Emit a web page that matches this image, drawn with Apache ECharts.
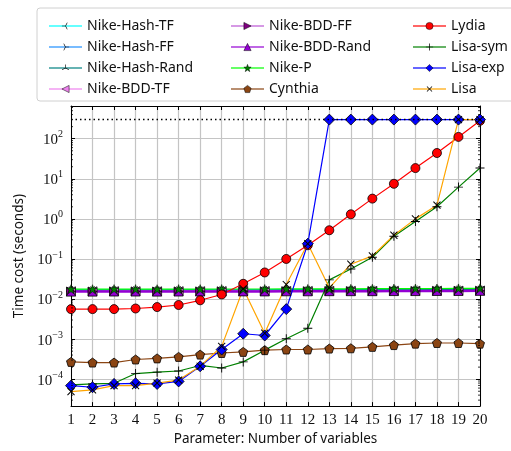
<!DOCTYPE html>
<html>
<head>
<meta charset="utf-8">
<script src="https://cdn.jsdelivr.net/npm/echarts@6/dist/echarts.min.js"></script>
<style>
  html, body { margin: 0; padding: 0; background: #fff; }
  #chart { width: 511px; height: 451px; }
</style>
</head>
<body>
<div id="chart"></div>
<script>
// number of variables
var nVars = [1, 2, 3, 4, 5, 6, 7, 8, 9, 10, 11, 12, 13, 14, 15, 16, 17, 18, 19, 20];

// time cost in seconds
var nikeHashTF = [0.0168, 0.0168, 0.0169, 0.0169, 0.0168, 0.0169, 0.0169, 0.0170, 0.0170, 0.0170, 0.0171, 0.0171, 0.0172, 0.0172, 0.0172, 0.0173, 0.0173, 0.0174, 0.0174, 0.0175];
var nikeHashFF = [0.0166, 0.0166, 0.0167, 0.0167, 0.0166, 0.0167, 0.0167, 0.0168, 0.0168, 0.0168, 0.0169, 0.0169, 0.0170, 0.0170, 0.0170, 0.0171, 0.0171, 0.0172, 0.0172, 0.0173];
var nikeHashRand = [0.0165, 0.0165, 0.0166, 0.0166, 0.0165, 0.0166, 0.0166, 0.0167, 0.0167, 0.0167, 0.0168, 0.0168, 0.0169, 0.0169, 0.0169, 0.0170, 0.0170, 0.0171, 0.0171, 0.0172];
var nikeBddTF = [0.0156, 0.0156, 0.0157, 0.0157, 0.0156, 0.0157, 0.0157, 0.0158, 0.0158, 0.0158, 0.0159, 0.0159, 0.0160, 0.0160, 0.0160, 0.0161, 0.0161, 0.0162, 0.0162, 0.0163];
var nikeBddFF = [0.0154, 0.0154, 0.0155, 0.0155, 0.0154, 0.0155, 0.0155, 0.0156, 0.0156, 0.0156, 0.0157, 0.0157, 0.0158, 0.0158, 0.0158, 0.0159, 0.0159, 0.0160, 0.0160, 0.0161];
var nikeBddRand = [0.0153, 0.0153, 0.0154, 0.0154, 0.0153, 0.0154, 0.0154, 0.0155, 0.0155, 0.0155, 0.0156, 0.0156, 0.0157, 0.0157, 0.0157, 0.0158, 0.0158, 0.0159, 0.0159, 0.0160];
var nikeP = [0.0176, 0.0176, 0.0177, 0.0177, 0.0176, 0.0177, 0.0177, 0.0178, 0.0178, 0.0178, 0.0179, 0.0179, 0.0180, 0.0180, 0.0181, 0.0182, 0.0182, 0.0183, 0.0184, 0.0185];
var cynthia = [2.7e-4, 2.6e-4, 2.6e-4, 3.1e-4, 3.3e-4, 3.6e-4, 4.1e-4, 4.5e-4, 4.8e-4, 5.3e-4, 5.5e-4, 5.5e-4, 5.8e-4, 5.9e-4, 6.4e-4, 7.1e-4, 7.7e-4, 8.0e-4, 8.0e-4, 7.7e-4];
var lydia = [0.0056, 0.0056, 0.0056, 0.0058, 0.0063, 0.0071, 0.0093, 0.013, 0.024, 0.046, 0.10, 0.22, 0.52, 1.3, 3.2, 7.5, 18.5, 44, 111, 280];
var lisaSym = [7.2e-5, 7.6e-5, 7.9e-5, 1.38e-4, 1.5e-4, 1.6e-4, 2.2e-4, 1.9e-4, 2.7e-4, 5.3e-4, 1.02e-3, 1.86e-3, 0.03, 0.056, 0.11, 0.37, 0.86, 2.0, 6.2, 18.6];
var lisaExp = [6.9e-5, 6.3e-5, 7.6e-5, 7.9e-5, 7.6e-5, 8.8e-5, 2.1e-4, 5.5e-4, 1.36e-3, 1.23e-3, 5.6e-3, 0.24, 300, 300, 300, 300, 300, 300, 300, 300];
var lisa = [4.9e-5, 5.4e-5, 6.9e-5, 6.9e-5, 8.0e-5, 9.5e-5, 2.1e-4, 6.6e-4, 0.018, 1.4e-3, 0.023, 0.24, 0.019, 0.074, 0.119, 0.39, 1.0, 2.2, 300, 300];

// timeout
var timeoutX = [1, 20];
var timeoutY = [300, 300];

// log minor tick values (2..9 x 10^k)
var minorTickVals = [];
[-5, -4, -3, -2, -1, 0, 1, 2].forEach(function (k) {
    [2, 3, 4, 5, 6, 7, 8, 9].forEach(function (m) {
        var v = m * Math.pow(10, k);
        if (v > 2.13e-5 && v < 655) minorTickVals.push(v);
    });
});

var legendCol1 = ['Nike-Hash-TF', 'Nike-Hash-FF', 'Nike-Hash-Rand', 'Nike-BDD-TF'];
var legendCol2 = ['Nike-BDD-FF', 'Nike-BDD-Rand', 'Nike-P', 'Cynthia'];
var legendCol3 = ['Lydia', 'Lisa-sym', 'Lisa-exp', 'Lisa'];

var triUp = 'path://M4.6,5L4.6,0L5.4,0L5.4,5ZM5.2,5.35L0.87,7.85L0.47,7.15L4.8,4.65ZM4.8,5.35L9.13,7.85L9.53,7.15L5.2,4.65ZM5,10L5,10Z';
var plus = 'path://M4.5,0H5.5V4.5H10V5.5H5.5V10H4.5V5.5H0V4.5H4.5Z';
var star = 'path://M5,0L6.18,3.38L9.76,3.45L6.9,5.62L7.94,9.05L5,7L2.06,9.05L3.1,5.62L0.24,3.45L3.82,3.38Z';
var pentagon = 'path://M5,0L9.76,3.45L7.94,9.05L2.06,9.05L0.24,3.45Z';

function pairs(ys) {
    return nVars.map(function (x, i) { return [x, ys[i]]; });
}

function mkSeries(name, ys, color, symbol, opts) {
    opts = opts || {};
    return {
        name: name,
        type: 'line',
        data: pairs(ys),
        symbol: symbol,
        symbolSize: opts.size || 9,
        symbolRotate: opts.rotate || 0,
        showAllSymbol: true,
        lineStyle: { color: color, width: opts.width || 1.2 },
        itemStyle: {
            color: opts.fill || color,
            borderColor: opts.border === undefined ? '#000' : opts.border,
            borderWidth: opts.borderWidth === undefined ? 0.8 : opts.borderWidth
        },
        emphasis: { disabled: true },
        animation: false
    };
}

var chartDom = document.getElementById('chart');
var chart = echarts.init(chartDom, null, { renderer: 'canvas' });

function supLabel(v) {
    var e = Math.round(Math.log10(v));
    var s = e < 0 ? '\u2212' + Math.abs(e) : '' + e;
    return '{b|10}{s|' + s + '}';
}

var legendBase = {
    orient: 'vertical',
    top: 14,
    itemWidth: 33,
    itemHeight: 9,
    itemGap: 7,
    textStyle: { fontFamily: 'Noto Sans', fontSize: 14, color: '#111' },
    lineStyle: { opacity: 0.6, width: 2 },
    itemStyle: { borderWidth: 0.5 },
    selectedMode: false
};

var optionChart = {
    backgroundColor: '#fff',
    graphic: [{
        type: 'rect',
        shape: { x: 37, y: 8, width: 490, height: 93, r: 3 },
        style: { fill: '#fff', stroke: '#d0d0d0', lineWidth: 1 },
        z: -1
    }],
    legend: [
        Object.assign({}, legendBase, { left: 43, data: legendCol1 }),
        Object.assign({}, legendBase, { left: 225, data: legendCol2 }),
        Object.assign({}, legendBase, { left: 407, data: legendCol3 })
    ],
    grid: { left: 71, right: 31, top: 106, bottom: 40 },
    xAxis: [{
        type: 'value',
        min: 1, max: 20, interval: 1,
        name: 'Parameter: Number of variables',
        nameLocation: 'middle',
        nameGap: 24,
        nameTextStyle: { fontFamily: 'Noto Sans', fontSize: 13.5, color: '#111' },
        axisLine: { lineStyle: { color: '#000', width: 1 } },
        axisTick: { inside: true, length: 4, lineStyle: { color: '#000' } },
        axisLabel: { fontFamily: 'Liberation Serif', fontSize: 15, color: '#111', margin: 6 },
        splitLine: { show: true, lineStyle: { color: '#c4c4c4', width: 1.2 } }
    }, {
        type: 'value', position: 'top',
        min: 1, max: 20, interval: 1,
        axisLine: { lineStyle: { color: '#000', width: 1 } },
        axisTick: { inside: true, length: 4, lineStyle: { color: '#000' } },
        axisLabel: { show: false },
        splitLine: { show: false }
    }],
    yAxis: [{
        type: 'log',
        min: 2.13e-5, max: 655,
        name: 'Time cost (seconds)',
        nameLocation: 'middle',
        nameGap: 42,
        nameTextStyle: { fontFamily: 'Noto Sans', fontSize: 13.5, color: '#111' },
        axisLine: { show: true, lineStyle: { color: '#000', width: 1 } },
        axisTick: { inside: true, length: 4, lineStyle: { color: '#000' } },
        axisLabel: {
            showMinLabel: false, showMaxLabel: false,
            margin: 8,
            formatter: supLabel,
            rich: {
                b: { fontFamily: 'Liberation Serif', fontSize: 15, color: '#111', lineHeight: 18, verticalAlign: 'bottom' },
                s: { fontFamily: 'Liberation Serif', fontSize: 10, color: '#111', lineHeight: 18, verticalAlign: 'top' }
            }
        },
        splitLine: { show: true, lineStyle: { color: '#c4c4c4', width: 1.2 } }
    }, {
        type: 'log', position: 'right',
        min: 2.13e-5, max: 655,
        axisLine: { show: true, lineStyle: { color: '#000', width: 1 } },
        axisTick: { inside: true, length: 4, lineStyle: { color: '#000' } },
        axisLabel: { show: false },
        splitLine: { show: false }
    }],
    series: [
        mkSeries('Nike-Hash-TF', nikeHashTF, '#00ffff', triUp, { rotate: 90, border: null, borderWidth: 0, fill: '#000', size: 8 }),
        mkSeries('Nike-Hash-FF', nikeHashFF, '#1e90ff', triUp, { rotate: -90, border: null, borderWidth: 0, fill: '#000', size: 8 }),
        mkSeries('Nike-Hash-Rand', nikeHashRand, '#008080', triUp, { border: null, borderWidth: 0, fill: '#000', size: 8 }),
        mkSeries('Nike-BDD-TF', nikeBddTF, '#ee82ee', 'triangle', { rotate: 90, fill: '#ee82ee' }),
        mkSeries('Nike-BDD-FF', nikeBddFF, '#ba55d3', 'triangle', { rotate: -90, fill: '#800080' }),
        mkSeries('Nike-BDD-Rand', nikeBddRand, '#9400d3', 'triangle', { fill: '#9400d3', width: 2.5 }),
        mkSeries('Nike-P', nikeP, '#00ff00', star, { fill: '#008000', size: 9, borderWidth: 0.5 }),
        mkSeries('Cynthia', cynthia, '#8b4513', pentagon, { fill: '#8b4513', size: 9 }),
        mkSeries('Lydia', lydia, '#ff0000', 'circle', { fill: '#ff0000', size: 9 }),
        mkSeries('Lisa-sym', lisaSym, '#008000', plus, { fill: '#000', border: null, borderWidth: 0, size: 9 }),
        mkSeries('Lisa-exp', lisaExp, '#0000ff', 'diamond', { fill: '#0000ff', size: 11 }),
        mkSeries('Lisa', lisa, '#ffa500', plus, { rotate: 45, fill: '#000', border: null, borderWidth: 0, size: 10 }),
        {
            name: 'timeout',
            type: 'line',
            data: timeoutX.map(function (x, i) { return [x, timeoutY[i]]; }),
            symbol: 'none',
            z: 5,
            lineStyle: { color: '#000', width: 1.5, type: [1.5, 3] },
            emphasis: { disabled: true },
            animation: false
        },
        {
            // minor ticks on the left and right log axes
            name: 'minorTicks',
            type: 'custom',
            data: minorTickVals.map(function (v) { return [1, v]; }),
            silent: true,
            z: 6,
            renderItem: function (params, api) {
                var l = api.coord([1, api.value(1)]);
                var r = api.coord([20, api.value(1)]);
                return {
                    type: 'group',
                    children: [
                        { type: 'line', shape: { x1: l[0], y1: l[1], x2: l[0] + 2, y2: l[1] }, style: { stroke: '#000', lineWidth: 0.8 } },
                        { type: 'line', shape: { x1: r[0], y1: r[1], x2: r[0] - 2, y2: r[1] }, style: { stroke: '#000', lineWidth: 0.8 } }
                    ]
                };
            },
            animation: false
        }
    ]
};

chart.setOption(optionChart);
</script>
</body>
</html>
